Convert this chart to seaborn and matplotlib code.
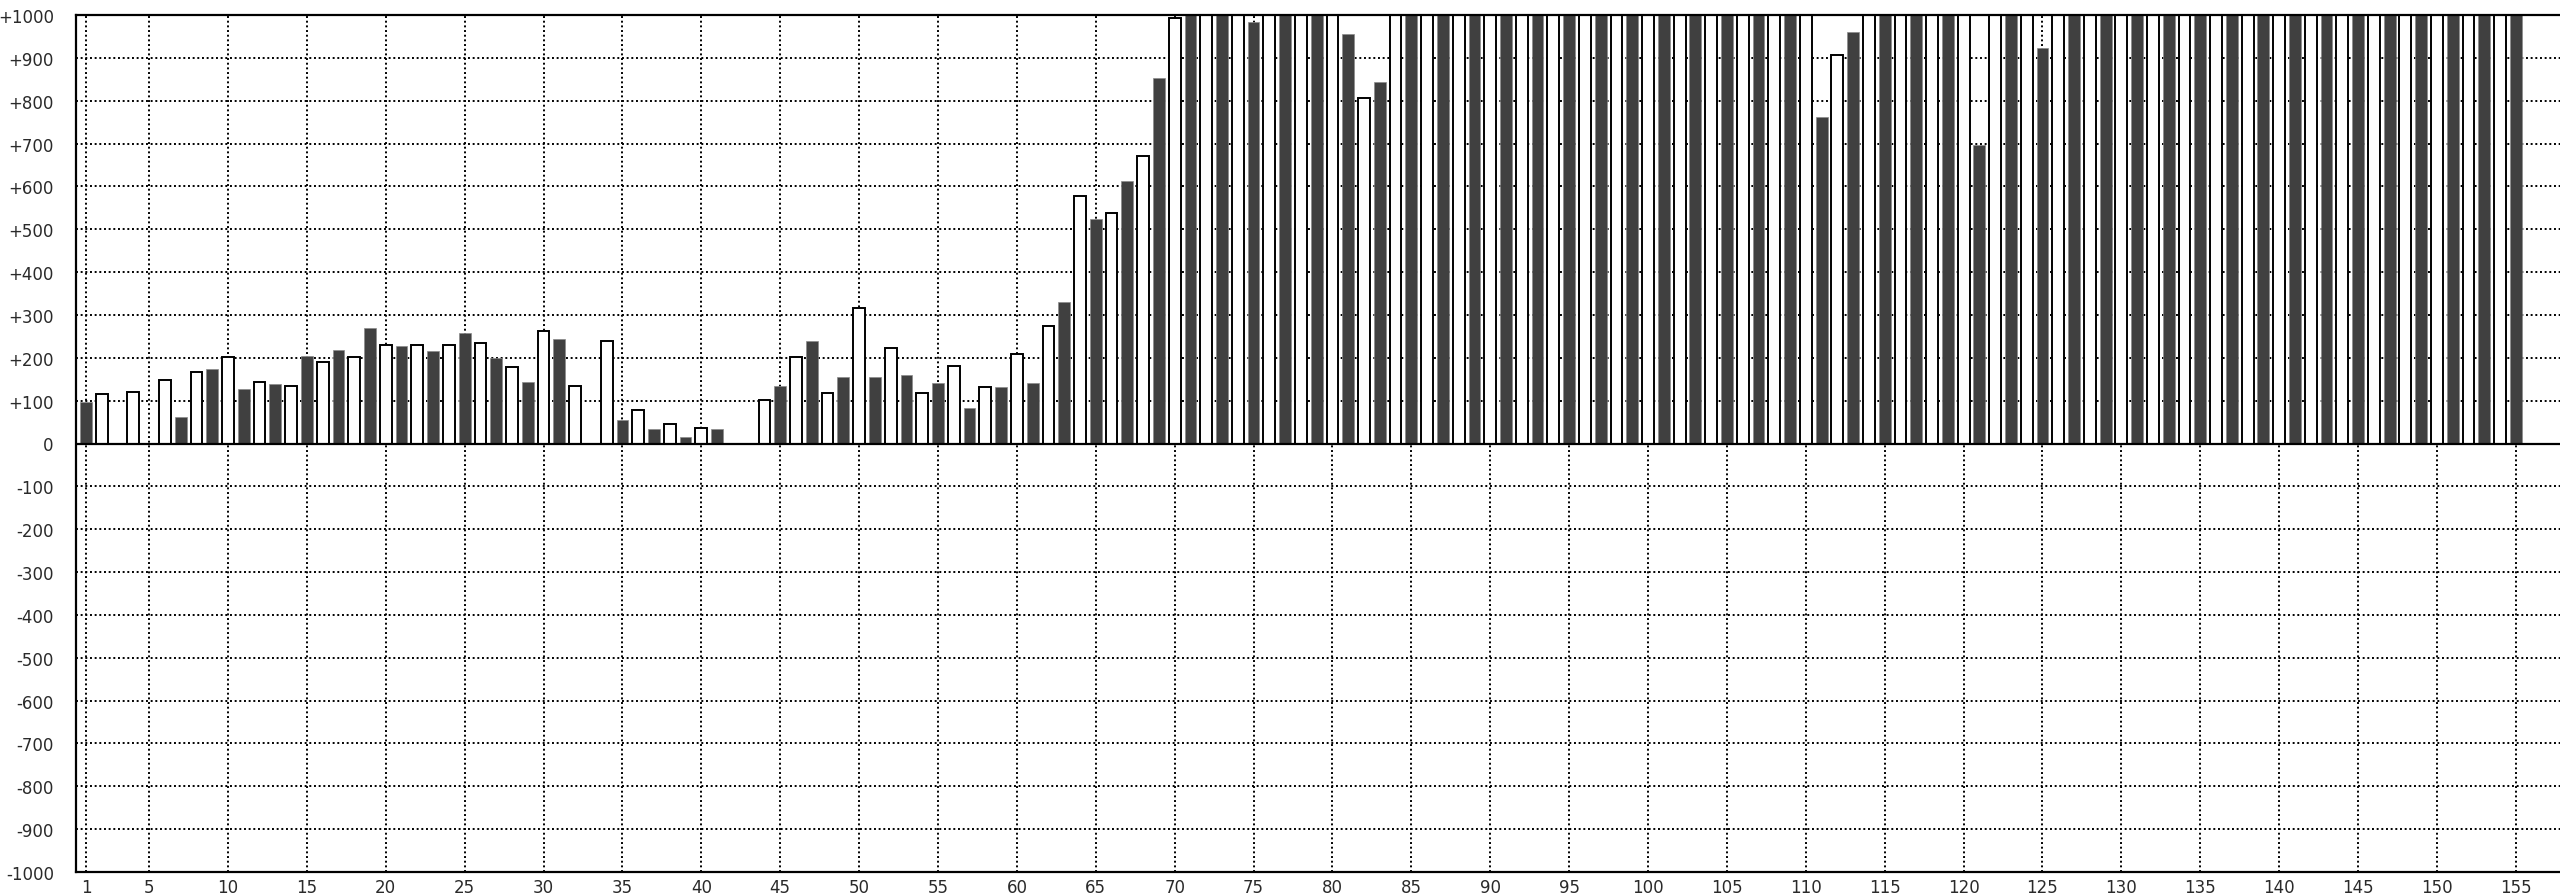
import matplotlib
matplotlib.use("Agg")
import matplotlib.pyplot as plt
import numpy as np
import pandas as pd
import seaborn as sns

nan = np.nan

# odd positions -> dark bars, even positions -> white bars
dark_pos = list(range(1, 156, 2))
dark_vals = [
    98, nan, nan, 62, 173, 127, 140, 205, 219, 269,
    227, 217, 259, 199, 144, 245, nan, 56, 33, 16,
    33, nan, 135, 240, 156, 156, 160, 142, 82, 132,
    142, 331, 524, 612, 853, 1200, 1200, 983, 1200, 1200,
    956, 844, 1200, 1200, 1200, 1200, 1200, 1200, 1200, 1200,
    1200, 1200, 1200, 1200, 1200, 761, 960, 1200, 1200, 1200,
    697, 1200, 922, 1200, 1200, 1200, 1200, 1200, 1200, 1200,
    1200, 1200, 1200, 1200, 1200, 1200, 1200, 1200,
]

white_pos = list(range(2, 155, 2))
white_vals = [
    115, 120, 149, 166, 203, 143, 135, 190, 203, 231,
    230, 230, 234, 179, 262, 134, 239, 78, 46, 37,
    nan, 101, 202, 118, 316, 224, 118, 182, 132, 209,
    274, 578, 537, 671, 993, 1200, 1200, 1200, 1200, 1200,
    807, 1200, 1200, 1200, 1200, 1200, 1200, 1200, 1200, 1200,
    1200, 1200, 1200, 1200, 1200, 907, 1200, 1200, 1200, 1200,
    1200, 1200, 1200, 1200, 1200, 1200, 1200, 1200, 1200, 1200,
    1200, 1200, 1200, 1200, 1200, 1200, 1200,
]

x_ticks = [1] + list(range(5, 156, 5))
y_ticks = list(range(-1000, 1001, 100))

df = pd.concat([
    pd.DataFrame({"pos": dark_pos, "val": dark_vals, "grp": "dark"}),
    pd.DataFrame({"pos": white_pos, "val": white_vals, "grp": "white"}),
]).dropna().sort_values("pos")

sns.set_style("white")
plt.rcParams["font.family"] = ["DejaVu Sans"]

fig = plt.figure(figsize=(25.6, 8.95), dpi=100)
ax = fig.add_axes([76 / 2560, 22 / 895, 1 - 76 / 2560, 857 / 895])

sns.barplot(data=df, x="pos", y="val", hue="grp",
            palette={"dark": "#404040", "white": "white"},
            native_scale=True, dodge=False, width=0.75,
            errorbar=None, legend=False, ax=ax)

for p in ax.patches:
    if p.get_facecolor()[0] > 0.9:
        p.set_edgecolor("black")
        p.set_linewidth(1.4)
    else:
        p.set_edgecolor("#8a8a8a")
        p.set_linewidth(0.5)

ax.set_axisbelow(True)
ax.grid(True, color="black", linestyle=(0, (1, 1.4)), linewidth=1.4)
ax.axhline(0, color="black", linewidth=1.6, zorder=3)

ax.set_xlim(0.366, 157.8)
ax.set_ylim(-1000, 1000)
ax.set_xticks(x_ticks)
ax.set_xticklabels([str(t) for t in x_ticks])
ax.set_yticks(y_ticks)
ax.set_yticklabels([("+%d" % t) if t > 0 else str(t) for t in y_ticks])
ax.tick_params(axis="both", length=0, labelsize=12, labelcolor="#2a2a2a")
ax.tick_params(axis="y", pad=16)
ax.tick_params(axis="x", pad=4)
ax.set_xlabel("")
ax.set_ylabel("")

for side in ["top", "left", "bottom"]:
    ax.spines[side].set_visible(True)
    ax.spines[side].set_color("black")
    ax.spines[side].set_linewidth(1.6)
ax.spines["right"].set_visible(False)

fig.savefig("out.png", dpi=100)
